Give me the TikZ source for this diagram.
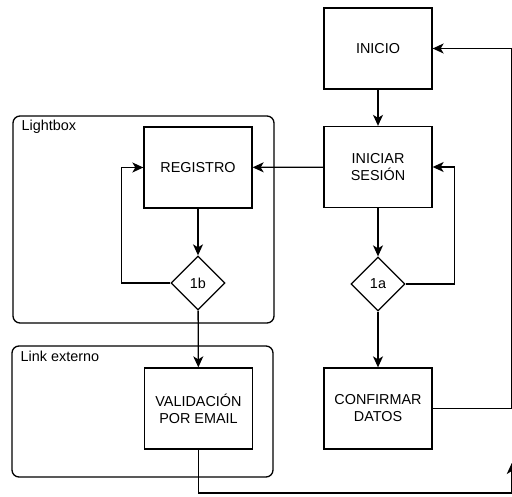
\documentclass[tikz,border=0pt]{standalone}
\usepackage{fontspec}
\setmainfont{Liberation Sans}
\usetikzlibrary{shapes.geometric,arrows.meta}
\begin{document}
\begin{tikzpicture}[
			x=1pt, y=-1pt,
			font=\fontsize{14.4}{17}\selectfont,
			line width=1.3pt,
			stepbox/.style={rectangle,draw,align=center,minimum width=108pt,minimum height=81pt,inner sep=0pt},
			decision/.style={diamond,draw,minimum width=54pt,minimum height=54pt,inner sep=0pt},
			group/.style={rectangle,draw,rounded corners=7pt},
			grouplabel/.style={anchor=base west,inner sep=0pt},
			flow/.style={-{Stealth[length=11pt,width=10pt,inset=3pt]}}
		]
		\useasboundingbox (0,0) rectangle (512,497);
		% contenedores
		\node[group,minimum width=261pt,minimum height=207pt] (lightbox) at (143.5,219.5) {};
		\node[grouplabel] (lightboxlabel) at (21,131) {Lightbox};
		\node[group,minimum width=261pt,minimum height=131pt] (externo) at (142.5,411.5) {};
		\node[grouplabel] (externolabel) at (20,362) {Link externo};
		% pasos
		\node[stepbox] (inicio) at (378,48.5) {INICIO};
		\node[stepbox] (iniciar) at (378,167) {INICIAR\\SESIÓN};
		\node[decision] (d1a) at (378,284) {1a};
		\node[stepbox] (confirmar) at (378,408.5) {CONFIRMAR\\DATOS};
		\node[stepbox] (registro) at (198,167.5) {REGISTRO};
		\node[decision] (d1b) at (198,283) {1b};
		\node[stepbox] (validacion) at (198.5,408.5) {VALIDACIÓN\\POR EMAIL};
		\coordinate (railtop) at (511.8,48.5);
		\coordinate (railbottom) at (511.8,493);
		\coordinate (arrowend) at (511.8,463);
		% conexiones
		\draw[flow] (inicio) -- (iniciar);
		\draw[flow] (iniciar) -- (registro);
		\draw[flow] (iniciar) -- (d1a);
		\draw[flow] (d1a.east) -- ++(49,0) |- (iniciar.east);
		\draw[flow] (d1a) -- (confirmar);
		\draw[flow] (confirmar.east) -| (railtop) -- (inicio.east);
		\draw[flow] (registro) -- (d1b);
		\draw[flow] (d1b.west) -- ++(-49,0) |- (registro.west);
		\draw[flow] (d1b) -- (validacion);
		\draw[flow] (validacion.south) |- (railbottom) -- (arrowend);
	\end{tikzpicture}
\end{document}
